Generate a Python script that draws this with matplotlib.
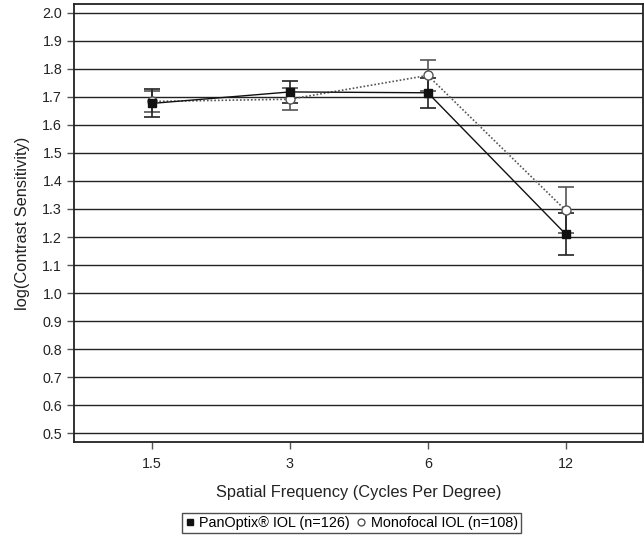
import matplotlib
matplotlib.use("Agg")
import matplotlib.pyplot as plt
from matplotlib.lines import Line2D

plt.rcParams['font.family'] = ['Liberation Sans', 'DejaVu Sans']

# Spatial frequencies (cycles per degree), shown as evenly spaced categories
frequencies = ["1.5", "3", "6", "12"]

# Mean log contrast sensitivity and error half-widths
panoptix_mean = [1.677, 1.718, 1.715, 1.210]
panoptix_err = [0.050, 0.040, 0.053, 0.075]
monofocal_mean = [1.684, 1.692, 1.777, 1.295]
monofocal_err = [0.038, 0.040, 0.054, 0.082]

y_ticks = [0.5, 0.6, 0.7, 0.8, 0.9, 1.0, 1.1, 1.2, 1.3, 1.4, 1.5,
           1.6, 1.7, 1.8, 1.9, 2.0]

legend_labels = ["PanOptix® IOL (n=126)", "Monofocal IOL (n=108)"]

fig = plt.figure(figsize=(6.44, 5.35), dpi=100)
ax = fig.add_axes([74 / 644, 1 - 442 / 535, 569 / 644, 438 / 535])

x = list(range(len(frequencies)))

# horizontal reference lines
for yv in y_ticks:
    ax.axhline(yv, color="#222222", lw=1.0, zorder=1)

# Monofocal: dotted grey line, open circles
ax.errorbar(x, monofocal_mean, yerr=monofocal_err, fmt="none",
            ecolor="#555555", elinewidth=1.2, capsize=6, capthick=1.2, zorder=3)
ax.plot(x, monofocal_mean, linestyle=(0, (1, 1.2)), color="#555555", lw=1.2, zorder=3)
ax.plot(x, monofocal_mean, linestyle="none", marker="o", ms=6.5,
        mfc="white", mec="#555555", mew=1.0, zorder=5)

# PanOptix: solid black line, filled squares
ax.errorbar(x, panoptix_mean, yerr=panoptix_err, fmt="none",
            ecolor="#222222", elinewidth=1.2, capsize=6, capthick=1.2, zorder=4)
ax.plot(x, panoptix_mean, linestyle="-", color="#111111", lw=1.0, zorder=4)
ax.plot(x, panoptix_mean, linestyle="none", marker="s", ms=5.3,
        mfc="#111111", mec="#111111", zorder=6)

ax.set_xlim(-0.565, 3.56)
ax.set_ylim(0.468, 2.032)
ax.set_xticks(x)
ax.set_xticklabels(frequencies)
ax.set_yticks(y_ticks)
ax.set_yticklabels([f"{v:.1f}" for v in y_ticks])

ax.tick_params(axis="both", direction="out", length=5, width=1,
               color="#555555", labelsize=10.3, labelcolor="#222222")
ax.tick_params(axis="x", pad=6)
for sp in ax.spines.values():
    sp.set_color("#222222")
    sp.set_linewidth(1.3)

ax.set_xlabel("Spatial Frequency (Cycles Per Degree)", fontsize=11.8,
              color="#222222", labelpad=10)
ax.set_ylabel("log(Contrast Sensitivity)", fontsize=11.8, color="#222222", labelpad=9)

handles = [
    Line2D([], [], linestyle="none", marker="s", ms=4.5, mfc="#111111", mec="#111111"),
    Line2D([], [], linestyle="none", marker="o", ms=5, mfc="white", mec="#444444", mew=0.9),
]
leg = fig.legend(handles, legend_labels, loc="lower center",
                 bbox_to_anchor=(0.546, 0.004), ncol=2, fontsize=10.4,
                 frameon=True, fancybox=False, handlelength=0.6,
                 handletextpad=0.35, columnspacing=0.5, borderpad=0.2,
                 borderaxespad=0)
leg.get_frame().set_edgecolor("#222222")
leg.get_frame().set_linewidth(1.0)

fig.savefig("out.png", dpi=100)
